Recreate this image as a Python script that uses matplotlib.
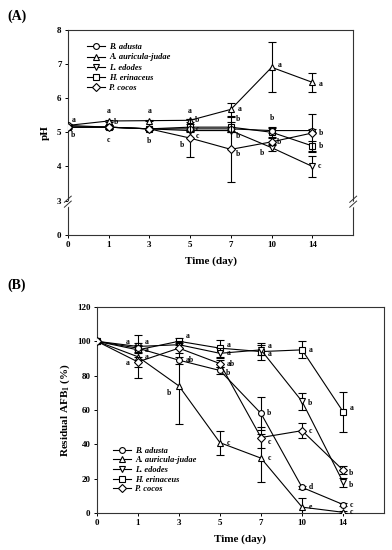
import numpy as np
import matplotlib
matplotlib.use("Agg")
import matplotlib.pyplot as plt
from matplotlib.lines import Line2D

plt.rcParams['font.family'] = ['Liberation Serif', 'DejaVu Serif']
plt.rcParams['font.weight'] = 'bold'
plt.rcParams['mathtext.fontset'] = 'custom'
plt.rcParams['mathtext.rm'] = 'Liberation Serif:bold'
plt.rcParams['mathtext.bf'] = 'Liberation Serif:bold'

# ---------------- data ----------------
days = ["0", "1", "3", "5", "7", "10", "14"]
species = ["B. adusta", "A. auricula-judae", "L. edodes", "H. erinaceus", "P. cocos"]
markers = ["o", "^", "v", "s", "D"]

# Panel A: pH
ph_b_adusta = [5.20, 5.15, 5.10, 5.10, 5.10, 5.05, 5.05]
ph_a_auric = [5.20, 5.33, 5.34, 5.35, 5.67, 6.90, 6.46]
ph_l_edodes = [5.15, 5.15, 5.10, 5.05, 5.05, 4.55, 4.00]
ph_h_erin = [5.15, 5.15, 5.10, 5.15, 5.15, 5.00, 4.60]
ph_p_cocos = [5.15, 5.15, 5.10, 4.83, 4.50, 4.72, 4.98]

ph_err_b_adusta = [0.03, 0.03, 0.03, 0.05, 0.05, 0.08, 0.05]
ph_err_a_auric = [0.03, 0.03, 0.02, 0.05, 0.20, 0.73, 0.27]
ph_err_l_edodes = [0.03, 0.03, 0.03, 0.05, 0.05, 0.10, 0.30]
ph_err_h_erin = [0.03, 0.05, 0.03, 0.10, 0.15, 0.15, 0.15]
ph_err_p_cocos = [0.05, 0.05, 0.03, 0.55, 0.95, 0.10, 0.55]

# letters for panel A: (series index, day index, letter, dx pt, dy pt)
ph_letters = [
    (1, 0, "a", 4, 4), (2, 0, "b", 4, -6),
    (1, 1, "a", 0, 7), (1, 1, "b", 5, -1), (2, 1, "c", 0, -9),
    (1, 2, "a", 0, 7), (2, 2, "b", 0, -9),
    (1, 3, "a", 0, 7), (1, 3, "b", 5, 0), (3, 3, "c", 5, -1.5), (0, 3, "c", 5, -5.5),
    (4, 3, "b", -6, -5),
    (1, 4, "a", 6, 0), (3, 4, "b", 5, 6), (2, 4, "b", 5, -4), (4, 4, "b", 5, -3),
    (1, 5, "a", 6, 2), (3, 5, "b", 0, 10), (4, 5, "b", 5, 0), (2, 5, "b", -7, -4),
    (1, 6, "a", 6, -1), (4, 6, "b", 6, 0), (3, 6, "b", 6, 0), (2, 6, "c", 5, 0),
]

# Panel B: residual AFB1 (%)
afb_b_adusta = [100, 96, 89, 83, 58, 15, 5]
afb_a_auric = [100, 91, 74, 41, 32, 3.5, 0.5]
afb_l_edodes = [100, 97, 98, 93, 95, 65, 18]
afb_h_erin = [100, 95, 100, 96, 94, 95, 59]
afb_p_cocos = [100, 88, 96, 87, 44, 48, 25]

afb_err_b_adusta = [0, 2, 2, 2, 9.6, 1, 1]
afb_err_a_auric = [0, 12.5, 22, 7, 14, 5.5, 0.5]
afb_err_l_edodes = [0, 2, 2, 3, 3, 5, 2.5]
afb_err_h_erin = [0, 2, 2, 5, 5, 5, 11.5]
afb_err_p_cocos = [0, 3, 3, 2, 6, 4.2, 2.5]

afb_letters = [
    (4, 1, "a", -7, 14), (2, 1, "a", 6, 3.5), (1, 1, "a", 6, 0), (0, 1, "a", 6, -1),
    (4, 1, "a", -7, -1),
    (3, 2, "a", 6, 4), (0, 2, "ab", 8, 0), (1, 2, "b", -7, -5),
    (3, 3, "a", 6, 2), (2, 3, "a", 6, 0), (4, 3, "ab", 8, 0), (0, 3, "b", 6, -2),
    (1, 3, "c", 6, 0),
    (2, 4, "a", 6, 3), (3, 4, "a", 6, -2), (0, 4, "b", 6, 0), (4, 4, "c", 6, -3),
    (1, 4, "c", 6, 0),
    (3, 5, "a", 6, 0), (2, 5, "b", 6, -1), (4, 5, "c", 6, 0), (0, 5, "d", 6, 0),
    (1, 5, "e", 6, 0),
    (3, 6, "a", 6, 3), (4, 6, "b", 6, -2), (2, 6, "b", 6, -2), (0, 6, "c", 6, 0),
    (1, 6, "c", 6, 0),
]

ph_vals = [ph_b_adusta, ph_a_auric, ph_l_edodes, ph_h_erin, ph_p_cocos]
ph_errs = [ph_err_b_adusta, ph_err_a_auric, ph_err_l_edodes, ph_err_h_erin, ph_err_p_cocos]
afb_vals = [afb_b_adusta, afb_a_auric, afb_l_edodes, afb_h_erin, afb_p_cocos]
afb_errs = [afb_err_b_adusta, afb_err_a_auric, afb_err_l_edodes, afb_err_h_erin, afb_err_p_cocos]

ph_tick_labels = ["0", "3", "4", "5", "6", "7", "8"]


def tf(v):
    v = np.asarray(v, dtype=float)
    return np.where(v >= 3, v - 2, v / 3.0)


x = np.arange(len(days))

fig = plt.figure(figsize=(3.92, 5.5), dpi=100)
axA = fig.add_axes([0.173, 0.573, 0.728, 0.373])
axB = fig.add_axes([0.247, 0.067, 0.733, 0.375])

tick_fs = 6.5
let_fs = 5.5
zorders = [5, 4, 3, 2, 6]


def style_axes(ax):
    for s in ax.spines.values():
        s.set_linewidth(0.8)
        s.set_color('#333333')
    ax.tick_params(direction='out', length=2.5, width=0.7, labelsize=tick_fs, pad=2)
    for lab in ax.get_xticklabels() + ax.get_yticklabels():
        lab.set_fontweight('bold')


mk_kw = dict(fmt='-', color='black', mfc='white', mec='black', lw=0.8,
             elinewidth=0.8, capsize=3, capthick=0.8, mew=0.8)

# ---------- Panel A ----------
for i in range(5):
    y = tf(ph_vals[i])
    axA.errorbar(x, y, yerr=ph_errs[i], marker=markers[i],
                 ms=4.2 if markers[i] != 'D' else 3.8, zorder=zorders[i], **mk_kw)
for (s, d, t, dx, dy) in ph_letters:
    axA.annotate(t, (x[d], tf([ph_vals[s][d]])[0]), xytext=(dx, dy),
                 textcoords='offset points', fontsize=let_fs, fontweight='bold',
                 ha='center', va='center', zorder=10)

axA.set_xlim(0, 7)
axA.set_ylim(0, 6)
axA.set_xticks(x)
axA.set_xticklabels(days)
axA.set_yticks(np.arange(7))
axA.set_yticklabels(ph_tick_labels)
style_axes(axA)
axA.set_xlabel("Time (day)", fontsize=8, fontweight='bold', labelpad=5)
axA.set_ylabel("pH", fontsize=8, fontweight='bold', labelpad=5)

# axis break marks at y=3
for xb in (0, 1):
    axA.plot([xb - 0.012, xb + 0.012], [1 / 6 - 0.035, 1 / 6 - 0.005], transform=axA.transAxes,
             color='white', lw=3, clip_on=False, zorder=20)
    for off in (-0.012, 0.012):
        axA.plot([xb - 0.012, xb + 0.012], [1 / 6 - 0.02 + off, 1 / 6 + 0.01 + off],
                 transform=axA.transAxes, color='#333333', lw=0.7, clip_on=False, zorder=21)

handles = [Line2D([0], [0], color='black', lw=0.8, marker=m, mfc='white', mec='black',
                  ms=4.2 if m != 'D' else 3.8, mew=0.8) for m in markers]
legA = axA.legend(handles, species, loc='upper left', bbox_to_anchor=(0.04, 0.97),
                  frameon=False, handlelength=2.2, handletextpad=0.5, labelspacing=0.25,
                  prop={'family': 'Liberation Serif', 'style': 'italic', 'weight': 'bold', 'size': 6})

# ---------- Panel B ----------
for i in range(5):
    axB.errorbar(x, afb_vals[i], yerr=afb_errs[i], marker=markers[i],
                 ms=4.2 if markers[i] != 'D' else 3.8, zorder=zorders[i], **mk_kw)
for (s, d, t, dx, dy) in afb_letters:
    axB.annotate(t, (x[d], afb_vals[s][d]), xytext=(dx, dy),
                 textcoords='offset points', fontsize=let_fs, fontweight='bold',
                 ha='center', va='center', zorder=10)

axB.set_xlim(0, 7)
axB.set_ylim(0, 120)
axB.set_xticks(x)
axB.set_xticklabels(days)
axB.set_yticks(np.arange(0, 121, 20))
style_axes(axB)
axB.set_xlabel("Time (day)", fontsize=8, fontweight='bold', labelpad=5)
axB.set_ylabel(r"Residual AFB$_{\mathbf{1}}$ (%)", fontsize=8, fontweight='bold', labelpad=4)
legB = axB.legend(handles, species, loc='lower left', bbox_to_anchor=(0.03, 0.06),
                  frameon=False, handlelength=2.2, handletextpad=0.5, labelspacing=0.2,
                  prop={'family': 'Liberation Serif', 'style': 'italic', 'weight': 'bold', 'size': 6})

fig.text(0.018, 0.983, "(A)", fontsize=10, fontweight='bold', va='top', ha='left')
fig.text(0.018, 0.493, "(B)", fontsize=10, fontweight='bold', va='top', ha='left')

fig.savefig("out.png", dpi=100)
